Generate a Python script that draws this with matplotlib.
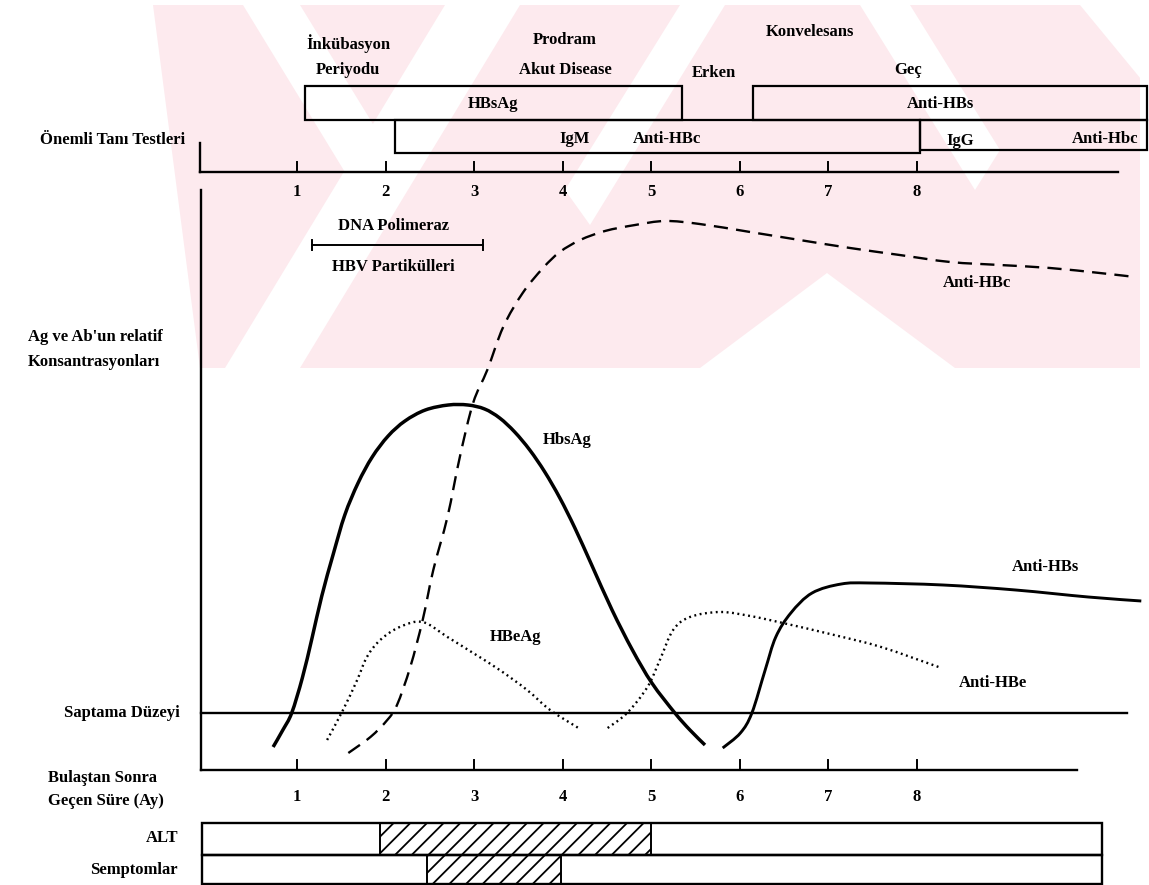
import matplotlib
matplotlib.use("Agg")
import numpy as np
import matplotlib.pyplot as plt
from matplotlib.patches import Rectangle, Polygon, PathPatch
from matplotlib.path import Path

# ---------------- data (months after infection, relative concentration) -------------
month_ticks = [1, 2, 3, 4, 5, 6, 7, 8]
tick_labels = ["1", "2", "3", "4", "5", "6", "7", "8"]

detection_level = 0.57

hbsag_x = [0.73, 0.84, 0.94, 1.06, 1.17, 1.28, 1.41, 1.54, 1.69, 1.85, 2.03, 2.22,
           2.45, 2.71, 2.93, 3.12, 3.29, 3.46, 3.63, 3.80, 3.97, 4.14, 4.33, 4.56,
           4.79, 5.01, 5.27, 5.44, 5.61]
hbsag_y = [0.23, 0.40, 0.57, 0.92, 1.32, 1.74, 2.16, 2.55, 2.87, 3.13, 3.34, 3.49,
           3.60, 3.65, 3.65, 3.61, 3.52, 3.38, 3.20, 2.98, 2.72, 2.42, 2.05, 1.60,
           1.20, 0.87, 0.57, 0.40, 0.25]

anti_hbc_x = [1.58, 1.83, 2.02, 2.13, 2.28, 2.42, 2.54, 2.70, 2.84, 2.99, 3.15, 3.33,
              3.55, 3.78, 3.97, 4.20, 4.48, 4.82, 5.16, 5.55, 6.12, 6.68, 7.25, 7.81,
              8.38, 8.94, 9.51, 10.07, 10.47]
anti_hbc_y = [0.17, 0.33, 0.50, 0.65, 1.03, 1.50, 2.00, 2.53, 3.13, 3.67, 4.00, 4.43,
              4.77, 5.02, 5.18, 5.30, 5.39, 5.45, 5.49, 5.46, 5.38, 5.30, 5.22, 5.15,
              5.08, 5.05, 5.02, 4.97, 4.93]

hbeag_x = [1.34, 1.52, 1.68, 1.79, 1.94, 2.16, 2.42, 2.70, 2.99, 3.29, 3.60, 3.86, 4.18]
hbeag_y = [0.30, 0.60, 0.90, 1.13, 1.30, 1.43, 1.48, 1.33, 1.17, 1.00, 0.80, 0.60, 0.42]

anti_hbe_x = [4.51, 4.73, 4.96, 5.10, 5.25, 5.44, 5.78, 6.12, 6.49, 7.07, 7.60, 8.25]
anti_hbe_y = [0.42, 0.57, 0.83, 1.10, 1.40, 1.53, 1.58, 1.54, 1.47, 1.35, 1.23, 1.03]

anti_hbs_x = [5.81, 6.01, 6.14, 6.29, 6.41, 6.58, 6.82, 7.15, 7.48, 8.30, 9.12, 9.94, 10.54]
anti_hbs_y = [0.22, 0.37, 0.57, 1.00, 1.33, 1.57, 1.77, 1.86, 1.87, 1.85, 1.80, 1.73, 1.69]

# diagnostic test bars (start month, end month)
test_names = ["HBsAg", "Anti-HBs", "IgM Anti-HBc", "IgG Anti-Hbc"]
test_start = [1.09, 6.15, 2.11, 8.04]
test_end = [5.35, 10.61, 8.04, 10.61]

dna_pol_start, dna_pol_end = 1.17, 3.10

alt_start, alt_end = 1.94, 5.00
sym_start, sym_end = 2.47, 3.98

# ---------------- figure ----------------
W, H = 1149, 885
X0, SX = 208.5, 88.5      # pixel of month 0 and pixels per month
Y0, SY = 770.0, 100.0     # pixel of baseline and pixels per unit


def P(px, py):
    return ((px - X0) / SX, (Y0 - py) / SY)


def smooth_path(xs, ys):
    """Catmull-Rom curve through the given points, as cubic Bezier segments."""
    pts = np.column_stack([xs, ys]).astype(float)
    n = len(pts)
    verts = [pts[0]]
    codes = [Path.MOVETO]
    for i in range(n - 1):
        p0 = pts[i - 1] if i > 0 else pts[i]
        p1, p2 = pts[i], pts[i + 1]
        p3 = pts[i + 2] if i + 2 < n else pts[i + 1]
        verts += [p1 + (p2 - p0) / 6.0, p2 - (p3 - p1) / 6.0, p2]
        codes += [Path.CURVE4] * 3
    return Path(verts, codes)


fig = plt.figure(figsize=(W / 100, H / 100), dpi=100)
ax = fig.add_axes([0, 0, 1, 1])
ax.set_xlim(-X0 / SX, (W - X0) / SX)
ax.set_ylim((Y0 - H) / SY, Y0 / SY)
ax.axis("off")

plt.rcParams["hatch.linewidth"] = 1.3
FONT = dict(family=["Liberation Serif", "DejaVu Serif"], weight="bold", color="black")
FS = 12

# ---- faint watermark ----
pink = "#fdeaee"
ax.add_patch(Polygon([P(150, 5), P(1140, 5), P(1140, 368), P(150, 368)],
                     closed=True, facecolor=pink, edgecolor="none", zorder=0))
white_shapes = [
    [P(225, 368), P(300, 368), P(520, 5), P(445, 5)],
    [P(243, 5), P(300, 5), P(395, 160), P(365, 205)],
    [P(680, 5), P(725, 5), P(590, 225), P(565, 190)],
    [P(700, 368), P(827, 273), P(955, 368)],
    [P(860, 5), P(910, 5), P(1000, 150), P(975, 190)],
    [P(1080, 5), P(1150, 5), P(1150, 90)],
    [P(150, 5), P(153, 5), P(200, 368), P(150, 368)],
]
for s in white_shapes:
    ax.add_patch(Polygon(s, closed=True, facecolor="white", edgecolor="none", zorder=0))

# ---- top panel: phases ----
ax.text(*P(348, 44), "İnkübasyon", ha="center", va="center", fontsize=FS, **FONT)
ax.text(*P(348, 70), "Periyodu", ha="center", va="center", fontsize=FS, **FONT)
ax.text(*P(565, 40), "Prodram", ha="center", va="center", fontsize=FS, **FONT)
ax.text(*P(565, 70), "Akut Disease", ha="center", va="center", fontsize=FS, **FONT)
ax.text(*P(810, 32), "Konvelesans", ha="center", va="center", fontsize=FS, **FONT)
ax.text(*P(714, 73), "Erken", ha="center", va="center", fontsize=FS, **FONT)
ax.text(*P(908, 70), "Geç", ha="center", va="center", fontsize=FS, **FONT)

# test boxes
row_top = [6.84, 6.84, 6.50, 6.50]
row_bot = [6.50, 6.50, 6.17, 6.20]
for s, e, t, b in zip(test_start, test_end, row_top, row_bot):
    ax.add_patch(Rectangle((s, b), e - s, t - b, fill=False, edgecolor="black",
                           lw=1.6, zorder=3))
ax.text((test_start[0] + test_end[0]) / 2, 6.66, "HBsAg", ha="center", va="center", fontsize=FS, **FONT)
ax.text(*P(940, 104), "Anti-HBs", ha="center", va="center", fontsize=FS, **FONT)
ax.text(*P(575, 139), "IgM", ha="center", va="center", fontsize=FS, **FONT)
ax.text(*P(667, 139), "Anti-HBc", ha="center", va="center", fontsize=FS, **FONT)
ax.text(*P(960, 141), "IgG", ha="center", va="center", fontsize=FS, **FONT)
ax.text(*P(1105, 139), "Anti-Hbc", ha="center", va="center", fontsize=FS, **FONT)
ax.text(*P(40, 140), "Önemli Tanı Testleri", ha="left", va="center", fontsize=FS, **FONT)

# top time axis
ax_y = (Y0 - 172) / SY
ax.plot([P(200, 0)[0], P(1118, 0)[0]], [ax_y, ax_y], color="black", lw=1.7, zorder=3)
ax.plot([P(200, 0)[0]] * 2, [ax_y, (Y0 - 143) / SY], color="black", lw=1.7, zorder=3)
for m, lab in zip(month_ticks, tick_labels):
    ax.plot([m, m], [ax_y, ax_y + 0.10], color="black", lw=1.4, zorder=3)
    ax.text(m, (Y0 - 192) / SY, lab, ha="center", va="center", fontsize=FS, **FONT)

# ---- main panel ----
left_x = P(201, 0)[0]
ax.plot([left_x, left_x], [0, (Y0 - 190) / SY], color="black", lw=1.7)
ax.plot([left_x, P(1077, 0)[0]], [0, 0], color="black", lw=1.7)
for m, lab in zip(month_ticks, tick_labels):
    ax.plot([m, m], [0, 0.10], color="black", lw=1.4)
    ax.text(m, (Y0 - 797) / SY, lab, ha="center", va="center", fontsize=FS, **FONT)

ax.plot([left_x, P(1127, 0)[0]], [detection_level, detection_level], color="black", lw=1.7)

# DNA polymerase / HBV particles
dy = (Y0 - 245) / SY
ax.plot([dna_pol_start, dna_pol_end], [dy, dy], color="black", lw=1.4)
for xx in (dna_pol_start, dna_pol_end):
    ax.plot([xx, xx], [dy - 0.05, dy + 0.05], color="black", lw=1.4)
ax.text(*P(393, 226), "DNA Polimeraz", ha="center", va="center", fontsize=FS, **FONT)
ax.text(*P(393, 267), "HBV Partikülleri", ha="center", va="center", fontsize=FS, **FONT)

# curves
curves = [
    (hbsag_x, hbsag_y, dict(lw=2.5, linestyle="-")),
    (anti_hbs_x, anti_hbs_y, dict(lw=2.1, linestyle="-")),
    (anti_hbc_x, anti_hbc_y, dict(lw=1.7, linestyle=(0, (6, 3.5)))),
    (hbeag_x, hbeag_y, dict(lw=1.7, linestyle=(0, (0.8, 1.5)))),
    (anti_hbe_x, anti_hbe_y, dict(lw=1.7, linestyle=(0, (0.8, 1.5)))),
]
for xs, ys, st in curves:
    ax.add_patch(PathPatch(smooth_path(xs, ys), fill=False, edgecolor="black",
                           capstyle="butt", zorder=4, **st))

ax.text(*P(567, 440), "HbsAg", ha="center", va="center", fontsize=FS, **FONT)
ax.text(*P(516, 637), "HBeAg", ha="center", va="center", fontsize=FS, **FONT)
ax.text(*P(977, 283), "Anti-HBc", ha="center", va="center", fontsize=FS, **FONT)
ax.text(*P(1045, 567), "Anti-HBs", ha="center", va="center", fontsize=FS, **FONT)
ax.text(*P(993, 683), "Anti-HBe", ha="center", va="center", fontsize=FS, **FONT)

ax.text(*P(28, 337), "Ag ve Ab'un relatif", ha="left", va="center", fontsize=FS, **FONT)
ax.text(*P(28, 362), "Konsantrasyonları", ha="left", va="center", fontsize=FS, **FONT)
ax.text(*P(180, 713), "Saptama Düzeyi", ha="right", va="center", fontsize=FS, **FONT)
ax.text(*P(48, 778), "Bulaştan Sonra", ha="left", va="center", fontsize=FS, **FONT)
ax.text(*P(48, 801), "Geçen Süre (Ay)", ha="left", va="center", fontsize=FS, **FONT)

# ---- bottom bars: ALT and symptoms ----
bx0, bx1 = P(202, 0)[0], P(1102, 0)[0]
alt_t, alt_b = (Y0 - 823) / SY, (Y0 - 855) / SY
sym_t, sym_b = alt_b, (Y0 - 884) / SY
for t, b in ((alt_t, alt_b), (sym_t, sym_b)):
    ax.add_patch(Rectangle((bx0, b), bx1 - bx0, t - b, fill=False, edgecolor="black", lw=1.7))
ax.add_patch(Rectangle((alt_start, alt_b), alt_end - alt_start, alt_t - alt_b, fill=False,
                       hatch="//", edgecolor="black", lw=1.4))
ax.add_patch(Rectangle((sym_start, sym_b), sym_end - sym_start, sym_t - sym_b, fill=False,
                       hatch="//", edgecolor="black", lw=1.4))
ax.text(*P(178, 838), "ALT", ha="right", va="center", fontsize=FS, **FONT)
ax.text(*P(178, 870), "Semptomlar", ha="right", va="center", fontsize=FS, **FONT)

fig.savefig("out.png", dpi=100, facecolor="white")
